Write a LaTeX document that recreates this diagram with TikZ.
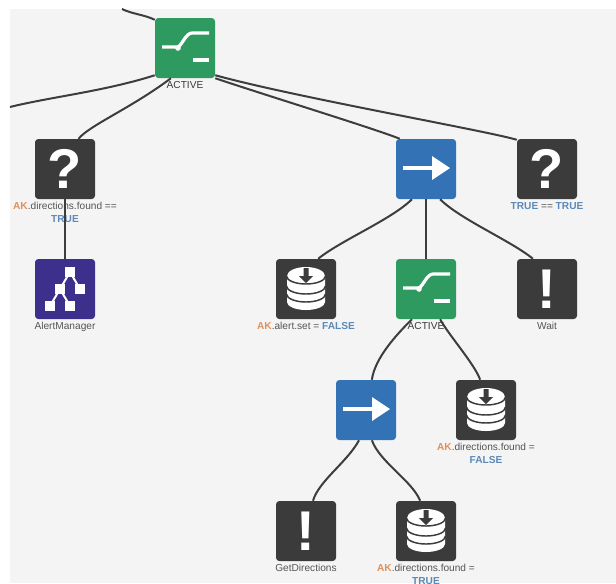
\documentclass[tikz,border=0pt]{standalone}
\usepackage{fontspec}
\setmainfont{Liberation Sans}
\usetikzlibrary{positioning}
\definecolor{panel}{HTML}{F4F4F4}
\definecolor{wire}{HTML}{3D3D3D}
\definecolor{selgreen}{HTML}{2E9A5F}
\definecolor{seqblue}{HTML}{3272B5}
\definecolor{actdark}{HTML}{3B3B3B}
\definecolor{treepurple}{HTML}{3D2F8C}
\definecolor{akorange}{HTML}{E0905A}
\definecolor{valblue}{HTML}{5B8AB8}
\definecolor{txtgray}{HTML}{555555}
\newcommand{\ak}{\textcolor{akorange}{\bfseries AK}}
\newcommand{\val}[1]{\textcolor{valblue}{\bfseries #1}}
\tikzset{
  box/.style={minimum size=45pt, inner sep=0pt, rounded corners=2.5pt},
  selbox/.style={box, fill=selgreen},
  seqbox/.style={box, fill=seqblue},
  actbox/.style={box, fill=actdark},
  treebox/.style={box, fill=treepurple},
  lbl/.style={font=\fontsize{7.6}{10}\selectfont, text=txtgray, align=center, inner sep=0pt, below=2pt of #1},
  bigsign/.style={font=\fontsize{42}{42}\selectfont\bfseries, text=white, inner sep=0pt},
  wirepath/.style={draw=wire, line width=1.5pt},
  pics/switchicon/.style={code={
    \draw[white, line width=2.4pt] (-23,-1)--(-7,-1) .. controls (-3,-3) and (1,-15) .. (7,-15)--(24,-15);
    \draw[white, line width=2.4pt] (8,12)--(24,12);
    \fill[white] (-7,0) circle (2.8);
  }},
  pics/arrowicon/.style={code={
    \draw[white, line width=2.4pt] (-23,-1)--(7,-1);
    \fill[white] (6,-13)--(24,-1)--(6,11)--cycle;
  }},
  pics/dbicon/.style={code={
    \fill[white] (-19,-13) -- (-19,13) arc [start angle=180, end angle=0, x radius=19, y radius=8] -- (19,-13) arc [start angle=0, end angle=-180, x radius=19, y radius=9] -- cycle;
    \foreach \y in {-13,-3,5}{
      \draw[actdark, line width=1.1pt] (-19.5,\y) arc [start angle=180, end angle=0, x radius=19.5, y radius=8];
    }
    \fill[actdark] (-2.5,-21)--(2.5,-21)--(2.5,-13)--(7,-13)--(0,-6)--(-7,-13)--(-2.5,-13)--cycle;
  }},
  pics/treeicon/.style={code={
    \draw[white, line width=1.5pt] (5,-17)--(-5,0)--(-15,17) (5,-17)--(15,0) (-5,0)--(5,17);
    \foreach \p in {(5,-17),(-5,0),(15,0),(-15,17),(5,17)}{
      \fill[white] \p ++(-5.2,-5.2) rectangle ++(10.4,10.4);
    }
  }},
}
\begin{document}
\begin{tikzpicture}[x=.75pt, y=-.75pt]
\useasboundingbox (0,0) rectangle (616,583);
\clip (0,0) rectangle (616,583);
\fill[panel] (10,9) rectangle (616,583);

\node[selbox] (ActiveTop) at (185,48) {};
\node[actbox] (Found) at (65,169) {};
\node[seqbox] (SeqA) at (426,169) {};
\node[actbox] (TrueCheck) at (547,169) {};
\node[treebox] (Alert) at (65,289) {};
\node[actbox] (AlertSet) at (306,289) {};
\node[selbox] (ActiveB) at (426,289) {};
\node[actbox] (WaitAct) at (547,289) {};
\node[seqbox] (SeqB) at (366,410) {};
\node[actbox] (FoundFalse) at (486,410) {};
\node[actbox] (GetDir) at (306,531) {};
\node[actbox] (FoundTrue) at (426,531) {};

\pic at (ActiveTop) {switchicon};
\pic at (ActiveB) {switchicon};
\pic at (SeqA) {arrowicon};
\pic at (SeqB) {arrowicon};
\pic at (AlertSet) {dbicon};
\pic at (FoundFalse) {dbicon};
\pic at (FoundTrue) {dbicon};
\pic at (Alert) {treeicon};
\node[bigsign] (FoundSign) at (Found) {?};
\node[bigsign] (TrueSign) at (TrueCheck) {?};
\node[bigsign] (WaitSign) at (WaitAct) {!};
\node[bigsign] (GetSign) at (GetDir) {!};

\node[lbl=ActiveTop, text=actdark] (ActiveTopL) {ACTIVE};
\node[lbl=Found] (FoundL) {\ak.directions.found ==\\\val{TRUE}};
\node[lbl=TrueCheck] (TrueCheckL) {\val{TRUE} == \val{TRUE}};
\node[lbl=Alert] (AlertL) {AlertManager};
\node[lbl=AlertSet] (AlertSetL) {\ak.alert.set = \val{FALSE}};
\node[lbl=ActiveB, text=actdark] (ActiveBL) {ACTIVE};
\node[lbl=WaitAct] (WaitActL) {Wait};
\node[lbl=FoundFalse] (FoundFalseL) {\ak.directions.found =\\\val{FALSE}};
\node[lbl=GetDir] (GetDirL) {GetDirections};
\node[lbl=FoundTrue] (FoundTrueL) {\ak.directions.found =\\\val{TRUE}};

\coordinate (UpEnd) at (122,9);
\coordinate (LeftEnd) at (10,107);
\draw[wirepath] (UpEnd) .. controls +(10,5) and +(-10,-5) .. (ActiveTop.137);
\draw[wirepath] (ActiveTop.-138) .. controls +(-50,16) and +(40,-10) .. (LeftEnd);
\draw[wirepath] (ActiveTop.-115) .. controls +(-40,30) and +(12,-14) .. (Found.66);
\draw[wirepath] (ActiveTop.-45) .. controls +(60,20) and +(-25,-10) .. (SeqA.131);
\draw[wirepath] (ActiveTop.-42) .. controls +(80,22) and +(-30,-9) .. (TrueCheck.136);
\draw[wirepath] (Found.south) -- (Alert.north);
\draw[wirepath] (SeqA.-115) .. controls +(-20,20) and +(22,-18) .. (AlertSet.68);
\draw[wirepath] (SeqA.south) -- (ActiveB.north);
\draw[wirepath] (SeqA.-65) .. controls +(20,20) and +(-22,-18) .. (WaitAct.115);
\draw[wirepath] (ActiveB.-115) .. controls +(-15,15) and +(3,-22) .. (SeqB.79);
\draw[wirepath] (ActiveB.-65) .. controls +(8,15) and +(-5,-15) .. (FoundFalse.101);
\draw[wirepath] (SeqB.-103) .. controls +(-12,22) and +(6,-20) .. (GetDir.77);
\draw[wirepath] (SeqB.-79) .. controls +(8,22) and +(-8,-20) .. (FoundTrue.101);
\end{tikzpicture}
\end{document}
